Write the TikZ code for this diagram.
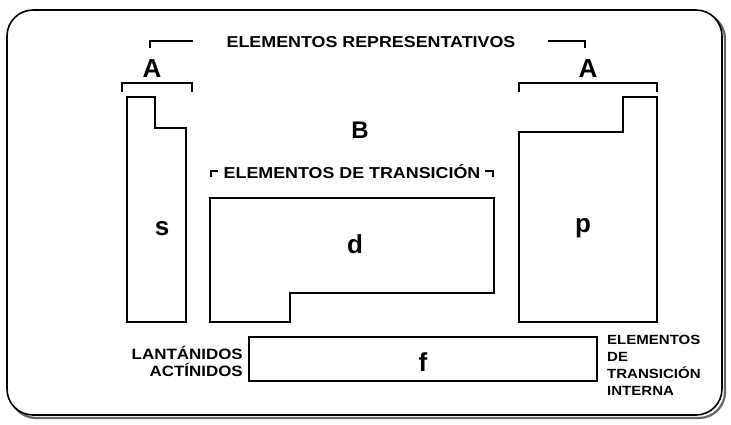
\documentclass[tikz,border=0pt]{standalone}
\usepackage{fontspec}
\setmainfont{Liberation Sans}
\newfontfamily\lab[FakeStretch=1.13]{Liberation Sans}
\begin{document}
\begin{tikzpicture}[x=1pt,y=-1pt,
  lbl/.style={font=\lab\bfseries\fontsize{15.8}{18}\selectfont, inner sep=0pt},
  big/.style={font=\bfseries\fontsize{26}{28}\selectfont, inner sep=0pt},
  small/.style={font=\lab\bfseries\fontsize{13.3}{17}\selectfont, inner sep=0pt, align=left},
  blk/.style={draw=black, line width=1.2pt, line join=miter},
  brk/.style={draw=black, line width=1.2pt}]
\useasboundingbox (0,0) rectangle (731,424);
% frame with shadow
\draw[line width=2.2pt, draw=black!60, rounded corners=26pt] (10,13) rectangle (725,418);
\draw[line width=1.6pt, fill=white, rounded corners=26pt] (7,10) rectangle (722,415);

% title
\node[lbl] (rep) at (371,42) {ELEMENTOS REPRESENTATIVOS};
\draw[brk] (150,48) -- (150,41) -- (193,41);
\draw[brk] (548,41) -- (585,41) -- (585,48);

% A left
\node[big] (Al) at (152,69) {A};
\draw[brk] (122,92) -- (122,83) -- (192,83) -- (192,92);
% A right
\node[big] (Ar) at (588,69) {A};
\draw[brk] (519,92) -- (519,83) -- (657,83) -- (657,92);

% s block
\draw[blk] (127,97) -- (155,97) -- (155,128) -- (186,128) -- (186,322) -- (127,322) -- cycle;
\node[big] (s) at (162,229) {s};

% p block
\draw[blk] (519,132) -- (623,132) -- (623,97) -- (657,97) -- (657,322) -- (519,322) -- cycle;
\node[big] (p) at (583,228) {p};

% B
\node[big, font=\bfseries\fontsize{24}{26}\selectfont] (B) at (360,130) {B};

% transition
\node[lbl] (tr) at (352,172) {ELEMENTOS DE TRANSICIÓN};
\draw[brk] (211,177) -- (211,171) -- (218,171);
\draw[brk] (485,171) -- (493,171) -- (493,177);

% d block
\draw[blk] (210,198) -- (494,198) -- (494,293) -- (290,293) -- (290,322) -- (210,322) -- cycle;
\node[big] (d) at (355,244) {d};

% f block
\draw[blk] (249,337) rectangle (597,381);
\node[big] (f) at (423,362) {f};
\node[lbl, anchor=east, align=right, font=\lab\bfseries\fontsize{15}{17}\selectfont] (lan) at (243,361) {LANTÁNIDOS\\ACTÍNIDOS};
\node[small, anchor=west] (eti) at (607,365) {ELEMENTOS\\DE\\TRANSICIÓN\\INTERNA};
\end{tikzpicture}
\end{document}
